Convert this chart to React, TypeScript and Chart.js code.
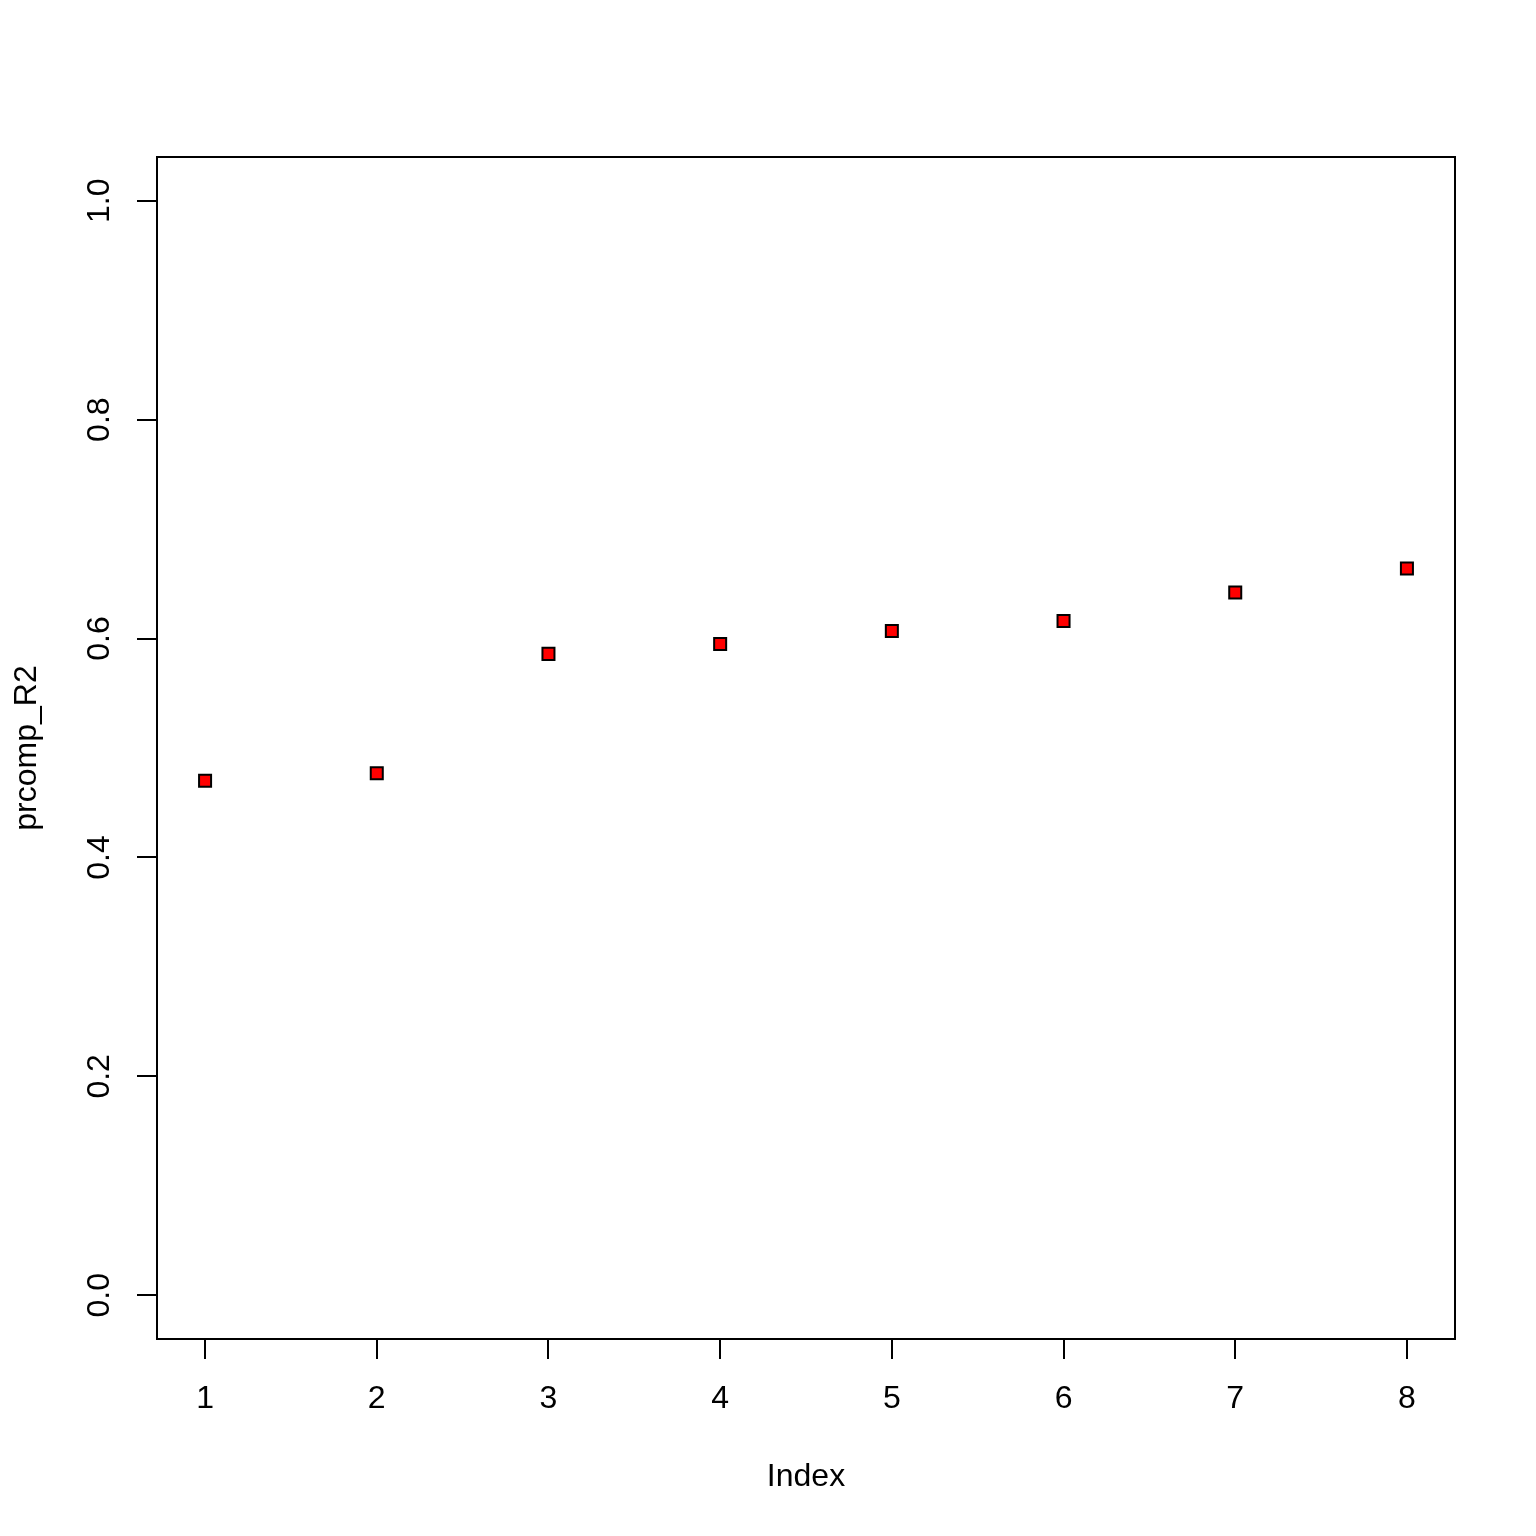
import React, { useEffect, useRef } from "react";
import { Chart, registerables } from "chart.js";

Chart.register(...registerables);

const indices = [1, 2, 3, 4, 5, 6, 7, 8];
const prcompR2 = [0.47, 0.477, 0.586, 0.595, 0.607, 0.616, 0.642, 0.664];
const xTicks = [1, 2, 3, 4, 5, 6, 7, 8];
const yTicks = [0, 0.2, 0.4, 0.6, 0.8, 1.0];
const xTitle = "Index";
const yTitle = "prcomp_R2";

const FONT = "32px 'Liberation Sans', Arial, Helvetica, sans-serif";

export default function App() {
  const ref = useRef<HTMLCanvasElement | null>(null);

  useEffect(() => {
    const canvas = ref.current;
    if (!canvas) return;

    const decor = {
      id: "rdecor",
      afterDraw(chart: any) {
        const ctx = chart.ctx;
        const ca = chart.chartArea;
        const xs = chart.scales.x;
        const ys = chart.scales.y;
        ctx.save();
        ctx.strokeStyle = "#000";
        ctx.lineWidth = 2;
        ctx.strokeRect(ca.left, ca.top, ca.right - ca.left, ca.bottom - ca.top);
        ctx.fillStyle = "#000";
        ctx.font = FONT;
        ctx.textAlign = "center";
        ctx.textBaseline = "middle";
        xTicks.forEach((v) => {
          ctx.fillText(String(v), xs.getPixelForValue(v), ca.bottom + 60);
        });
        yTicks.forEach((v) => {
          ctx.save();
          ctx.translate(ca.left - 57, ys.getPixelForValue(v));
          ctx.rotate(-Math.PI / 2);
          ctx.fillText(v.toFixed(1), 0, 0);
          ctx.restore();
        });
        ctx.fillText(xTitle, (ca.left + ca.right) / 2, ca.bottom + 138);
        ctx.save();
        ctx.translate(ca.left - 130, (ca.top + ca.bottom) / 2);
        ctx.rotate(-Math.PI / 2);
        ctx.fillText(yTitle, 0, 0);
        ctx.restore();
        ctx.restore();
      },
    };

    const chart = new Chart(canvas, {
      type: "scatter",
      data: {
        datasets: [
          {
            data: indices.map((x, i) => ({ x, y: prcompR2[i] })),
            pointStyle: "rect",
            pointRadius: 8.5,
            pointHoverRadius: 8.5,
            backgroundColor: "#ff0000",
            borderColor: "#000000",
            borderWidth: 2,
            showLine: false,
          },
        ],
      },
      options: {
        responsive: false,
        animation: false,
        events: [],
        layout: { padding: { left: 0, top: 157, right: 81, bottom: 0 } },
        plugins: { legend: { display: false }, tooltip: { enabled: false } },
        scales: {
          x: {
            type: "linear",
            min: 0.72,
            max: 8.28,
            afterBuildTicks: (s: any) => {
              s.ticks = xTicks.map((v) => ({ value: v }));
            },
            afterFit: (s: any) => {
              s.height = 197;
            },
            ticks: { display: false },
            border: { display: false },
            grid: {
              display: true,
              drawOnChartArea: false,
              drawTicks: true,
              tickLength: 20,
              color: "#000",
              lineWidth: 2,
            },
          },
          y: {
            type: "linear",
            min: -0.04,
            max: 1.04,
            afterBuildTicks: (s: any) => {
              s.ticks = yTicks.map((v) => ({ value: v }));
            },
            afterFit: (s: any) => {
              s.width = 157;
            },
            ticks: { display: false },
            border: { display: false },
            grid: {
              display: true,
              drawOnChartArea: false,
              drawTicks: true,
              tickLength: 20,
              color: "#000",
              lineWidth: 2,
            },
          },
        },
      },
      plugins: [decor],
    });

    return () => chart.destroy();
  }, []);

  return (
    <div style={{ position: "absolute", left: 0, top: 0, width: 1536, height: 1536, background: "#fff" }}>
      <canvas ref={ref} width={1536} height={1536} style={{ display: "block" }} />
    </div>
  );
}
